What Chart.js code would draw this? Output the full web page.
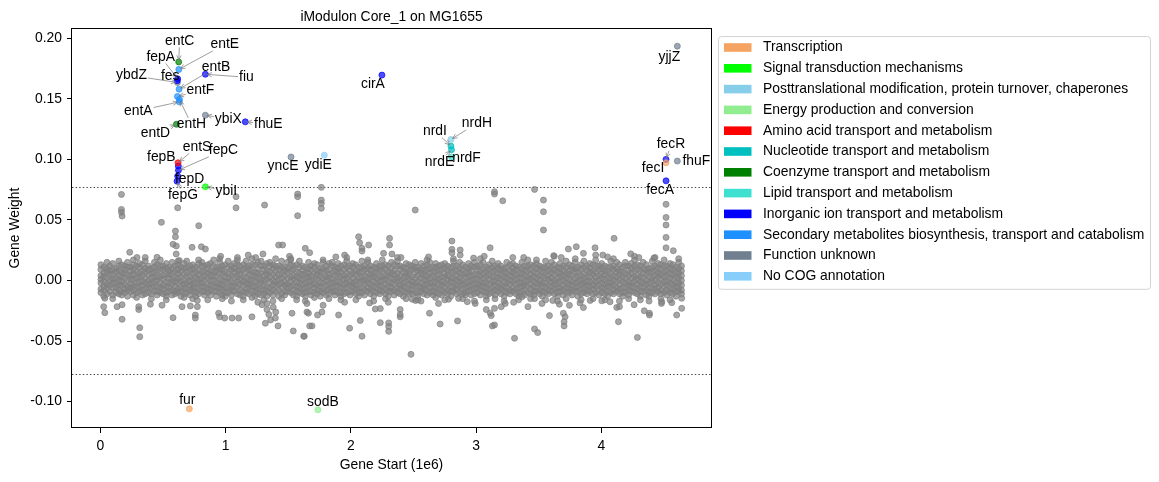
<!DOCTYPE html>
<html>
<head>
<meta charset="utf-8">
<title>iModulon Core_1 on MG1655</title>
<script src="https://cdn.jsdelivr.net/npm/chart.js@4.4.1/dist/chart.umd.min.js"></script>
<style>
  html, body { margin: 0; padding: 0; background: #fff; }
  #wrap { width: 1159px; height: 482px; position: relative; }
</style>
</head>
<body>
<div id="wrap"><canvas id="myChart"></canvas></div>
<script>
// categorias COG (legenda)
const cogNames = [
  'Transcription',
  'Signal transduction mechanisms',
  'Posttranslational modification, protein turnover, chaperones',
  'Energy production and conversion',
  'Amino acid transport and metabolism',
  'Nucleotide transport and metabolism',
  'Coenzyme transport and metabolism',
  'Lipid transport and metabolism',
  'Inorganic ion transport and metabolism',
  'Secondary metabolites biosynthesis, transport and catabolism',
  'Function unknown',
  'No COG annotation'
];
const cogColors = ['#F4A460', '#00FF00', '#87CEEB', '#90EE90', '#FF0000', '#00BFBF',
                   '#008000', '#40E0D0', '#0000FF', '#1E90FF', '#708090', '#87CEFA'];

// genes do iModulon (inicio em kb, peso, indice da categoria)
const geneNames   = ['entC', 'fepA', 'fes', 'ybdZ', 'entE', 'fiu', 'entB', 'entF', 'entH', 'entA', 'entD',
                     'ybiX', 'fhuE', 'entS', 'fepB', 'fepC', 'fepD', 'fepG', 'ybiI', 'yncE', 'ydiE', 'cirA',
                     'nrdH', 'nrdI', 'nrdE', 'nrdF', 'yjjZ', 'fecR', 'fecI', 'fhuF', 'fecA', 'fur', 'sodB'];
const geneStartKb = [625, 617, 613, 615, 626, 838, 628, 615, 631, 630, 607,
                     838, 1157, 620, 622, 623, 617, 612, 838, 1522, 1788, 2248,
                     2799, 2799, 2804, 2804, 4607, 4517, 4517, 4607, 4517, 710, 1737];
const geneWeight  = [0.1805, 0.1665, 0.1650, 0.1635, 0.1743, 0.1703, 0.1580, 0.1520, 0.1495, 0.1475, 0.1290,
                     0.1365, 0.1310, 0.0972, 0.0945, 0.0910, 0.0862, 0.0820, 0.0774, 0.1020, 0.1035, 0.1696,
                     0.1165, 0.1110, 0.1080, 0.1020, 0.1935, 0.1000, 0.0972, 0.0986, 0.0823, -0.1060, -0.1068];
const geneCog     = [6, 8, 8, 10, 9, 8, 9, 9, 9, 9, 6,
                     10, 8, 4, 8, 8, 8, 8, 1, 10, 11, 8,
                     2, 5, 5, 7, 10, 8, 0, 10, 8, 0, 3];

// resto do genoma (cinza): [inicio kb, pesos em milesimos...]
const gray0 = [
  [4,13,9,4,1,-2,-7,-10],[27,11,6,3,-1,-5,-8,-13],[52,15,10,7,2,-3,-6,-11],[74,12,8,5,0,-4,-9],
  [98,14,9,5,1,-2,-6,-12,-15],[123,10,7,2,-2,-6,-10],[147,16,12,8,4,0,-4,-8,-11],[169,13,7,3,-1,-4,-9,-12],
  [194,12,9,6,2,-3,-7,-10],[216,15,11,5,0,-5,-8,-13],[242,11,8,4,1,-3,-6,-9],[263,17,13,9,5,1,-4,-8,-12],
  [289,12,7,2,-2,-5,-10,-14],[311,14,11,6,3,-1,-6,-9],[336,13,8,4,-1,-4,-8,-12],[358,16,10,7,2,-2,-7,-11,19],
  [384,12,9,5,0,-3,-6,-10],[407,10,6,2,-2,-6,-11,-15],[431,15,11,7,3,-1,-5,-9],[453,13,8,3,0,-5,-9,-12],
  [478,17,12,8,3,-2,-6,-10],[500,12,9,4,1,-4,-7,-11],[526,14,10,5,-1,-5,-10,-13,-16],[547,11,8,5,2,-2,-6,-9],
  [573,15,10,6,1,-3,-8,-12],[595,12,7,2,-1,-5,-9,-11],[620,13,9,6,2,-2,-7,-10,16],[642,11,8,3,-1,-6,-9,-13],
  [668,14,10,5,0,-3,-6,-11,-14],[689,16,11,7,3,-2,-7,-10],[715,12,8,3,-1,-4,-8,-12],[737,13,10,6,1,-3,-6,-9,-15],
  [762,11,6,2,-2,-6,-10,-13],[784,14,9,5,1,-2,-7,-11,17],[810,15,12,7,2,-2,-5,-9],[831,12,7,4,0,-5,-9,-12],
  [857,13,10,6,2,-3,-7,-10,-16],[879,14,8,4,0,-4,-8,-12],[904,17,12,7,4,0,-5,-9],[926,11,8,3,-2,-5,-9,-13],
  [952,15,10,6,1,-3,-6,-10,18],[973,12,9,5,0,-4,-8,-12,-15],[997,13,7,3,-1,-6,-10,-13]
];
const gray1 = [
  [1021,16,11,6,2,-1,-6,-10],[1046,12,9,4,-1,-5,-8,-12,-17],[1068,14,10,7,3,-2,-5,-9],[1094,17,13,8,3,-1,-6,-11,19],
  [1115,12,8,5,1,-3,-8,-12],[1141,13,9,3,-1,-4,-9,-13,-16],[1163,16,11,7,2,-2,-7,-10],[1188,12,9,5,0,-3,-6,-11],
  [1210,18,13,8,4,0,-5,-9,-14],[1236,13,7,3,-1,-5,-9,-13],[1257,15,10,6,2,-3,-7,-11,-18],[1283,16,12,6,1,-2,-7,-12],
  [1305,12,9,4,0,-4,-8,-11,-16],[1330,14,8,5,1,-5,-9,-13,-19],[1352,15,12,7,3,-1,-6,-10],[1378,13,10,5,0,-4,-8,-12,-17],
  [1399,18,12,8,3,-1,-4,-9],[1425,12,9,5,1,-3,-8,-13],[1447,16,11,6,2,-2,-6,-11,-15],[1472,11,8,4,-1,-4,-9,-12],
  [1494,15,10,7,2,-3,-6,-9],[1520,17,13,8,3,-1,-5,-10,18],[1541,12,9,4,1,-4,-8,-12],[1567,13,7,3,-1,-5,-9,-13,-16],
  [1589,16,11,6,2,-2,-6,-10],[1614,12,8,5,1,-3,-7,-11],[1636,11,6,2,-2,-6,-10,-13,-17],[1662,15,10,6,3,-1,-5,-9],
  [1683,12,9,4,0,-4,-9,-12],[1709,14,11,6,1,-3,-6,-10,-14],[1731,13,8,5,1,-4,-8,-11],[1756,10,7,3,-2,-5,-9,-13],
  [1778,15,10,7,2,-2,-7,-10,17],[1804,12,8,3,0,-4,-8,-12],[1825,14,9,5,2,-3,-7,-11,-15],[1851,15,12,6,1,-2,-6,-9],
  [1873,11,8,4,-1,-5,-9,-12],[1898,14,10,7,3,-1,-5,-10],[1920,12,7,3,-2,-6,-10,-13,-16],[1946,13,9,4,1,-3,-7,-11],
  [1967,16,11,6,2,-2,-6,-10,19],[1993,12,8,4,-1,-4,-9,-12]
];
const gray2 = [
  [2015,14,11,6,2,-2,-5,-9],[2040,13,8,5,0,-4,-7,-11,-16],[2062,11,7,2,-1,-6,-10,-13],[2088,16,11,7,3,-1,-6,-10],
  [2109,12,9,4,0,-3,-8,-12],[2135,15,10,6,1,-2,-6,-9,17],[2157,12,9,5,2,-3,-7,-11],[2182,11,6,3,-1,-5,-9,-13,-17],
  [2204,14,10,7,2,-2,-6,-10],[2230,12,8,3,-1,-4,-8,-11],[2251,17,12,8,3,0,-5,-9],[2277,13,9,4,1,-3,-7,-11,-15],
  [2299,12,7,4,-1,-5,-9,-13,-18],[2324,15,10,6,2,-2,-6,-9],[2346,13,8,5,1,-3,-8,-12],[2372,16,12,6,2,-1,-6,-10,19],
  [2393,12,9,4,0,-4,-7,-11],[2419,11,7,2,-2,-5,-9,-13],[2441,14,10,6,3,-1,-6,-10,-15],[2466,13,8,5,1,-3,-7,-11],
  [2488,12,9,3,-1,-4,-8,-11],[2514,15,11,7,2,-2,-5,-10],[2535,11,8,4,-1,-5,-10,-13,-16],[2561,14,9,6,2,-2,-6,-9],
  [2583,12,8,5,1,-4,-7,-11],[2608,13,9,4,0,-3,-8,-12,17],[2630,15,10,6,2,-2,-6,-10],[2656,11,7,3,-2,-5,-9,-12],
  [2677,14,11,7,2,-1,-6,-10,-14],[2703,12,8,5,1,-3,-7,-11],[2725,13,9,3,-1,-4,-8,-12],[2750,14,10,6,3,-2,-6,-10,-16],
  [2772,12,8,4,1,-3,-8,-11],[2798,11,7,2,-1,-5,-9,-13],[2819,16,12,7,2,-2,-6,-9,18],[2845,12,8,4,0,-4,-7,-11],
  [2867,15,10,6,2,-1,-5,-10],[2892,13,9,5,0,-3,-7,-11,-15],[2914,11,6,3,-2,-6,-10,-12],[2940,14,10,7,3,-1,-5,-9],
  [2961,12,8,4,0,-4,-8,-12],[2987,15,11,5,1,-3,-7,-11,-17]
];
const gray3 = [
  [3009,12,9,5,1,-3,-6,-10],[3034,13,8,4,0,-4,-8,-12,18],[3056,15,10,6,2,-2,-5,-9],[3082,11,7,3,-2,-6,-10,-13,-16],
  [3103,13,9,5,1,-3,-7,-11],[3129,16,11,7,3,-1,-6,-10],[3151,12,8,3,-1,-4,-8,-12,-15],[3176,14,10,6,2,-2,-6,-9],
  [3198,12,9,5,1,-4,-7,-11],[3224,10,7,3,-1,-5,-9,-13,-17],[3245,15,11,6,2,-2,-6,-10],[3271,13,8,4,0,-3,-8,-11],
  [3293,14,10,7,3,-1,-6,-9,19],[3318,12,9,5,1,-3,-7,-11],[3340,11,6,2,-2,-6,-10,-13,-16],[3366,15,10,6,2,-2,-5,-9],
  [3387,12,8,4,-1,-4,-8,-12],[3413,17,12,8,3,0,-5,-10],[3435,13,9,5,1,-3,-7,-11,-15],[3460,12,7,3,-1,-5,-9,-12],
  [3482,14,10,6,2,-2,-6,-9,17],[3508,12,9,4,0,-3,-8,-11],[3529,11,7,3,-2,-5,-9,-13],[3555,16,11,7,2,-2,-6,-10,-16],
  [3577,12,8,4,1,-4,-8,-11],[3602,15,10,6,2,-1,-5,-9],[3624,13,9,5,0,-3,-7,-11,20],[3650,11,7,2,-2,-6,-10,-13,-17],
  [3671,14,10,6,3,-1,-6,-9],[3697,12,8,4,0,-4,-8,-12],[3719,16,11,6,2,-2,-6,-10,-15],[3744,13,8,5,1,-3,-7,-10],
  [3766,12,9,4,-1,-4,-8,-12],[3792,15,10,7,2,-2,-6,-9,18],[3813,11,7,3,-1,-5,-9,-13],[3839,13,9,4,0,-3,-7,-11,-16],
  [3861,16,11,6,2,-2,-6,-10],[3886,12,8,3,-1,-4,-8,-11],[3908,14,10,7,3,-1,-5,-9],[3934,13,8,5,0,-4,-7,-11,-15],
  [3955,17,12,7,3,-1,-5,-10,21],[3981,12,9,4,0,-4,-8,-12]
];
const gray4 = [
  [4003,14,10,6,2,-2,-6,-10],[4028,12,8,5,1,-3,-7,-11,-16],[4050,11,7,2,-2,-5,-9,-13],[4076,16,11,6,2,-2,-5,-10],
  [4097,12,9,4,0,-4,-8,-11,18],[4123,15,10,7,3,-1,-6,-9],[4145,13,8,5,1,-3,-7,-11,-17],[4170,11,7,3,-1,-6,-10,-13],
  [4192,15,12,6,2,-2,-6,-10],[4218,12,8,4,-1,-4,-8,-12,-15],[4239,14,10,6,2,-2,-5,-9],[4265,17,12,8,3,-1,-6,-10,20],
  [4287,13,9,4,1,-3,-7,-11],[4312,12,8,3,-1,-5,-9,-13,-16],[4334,15,10,6,2,-2,-6,-9],[4360,13,9,5,0,-3,-8,-12],
  [4381,10,7,3,-2,-6,-10,-13,-17],[4407,16,11,7,2,-1,-6,-10],[4429,12,8,4,0,-4,-7,-11,19],[4454,14,10,6,3,-2,-6,-9],
  [4476,13,9,5,1,-3,-8,-11,-15],[4502,17,12,7,3,-1,-5,-10],[4523,12,8,4,-1,-4,-8,-12],[4549,14,10,6,2,-2,-7,-10,-16],
  [4571,13,9,5,1,-3,-7,-11],[4596,11,7,3,-2,-5,-9,-13],[4618,15,10,6,2,-2,-6,-9,18],[4640,12,8,4,0,-4,-8,-11]
];
// pontos cinza mais afastados: [inicio kb, peso em milesimos]
const grayOut = [
  [168,71.1],[168,58.7],[168,56.3],[173,53.2],[487,48.0],[617,60.0],[599,40.8],[599,36.1],[580,29.9],[606,28.5],
  [605,21.9],[732,27.4],[785,45.2],[234,23.3],[292,19.0],[452,19.2],[630,16.5],
  [1083,69.2],[1083,60.0],[1311,62.3],[1575,71.4],[1575,69.2],[1575,53.5],[1423,29.3],[1455,29.3],[806,27.9],
  [838,26.0],[1298,21.9],[1636,26.6],[1671,23.0],
  [1764,76.9],[1764,66.4],[1764,63.7],[1764,59.6],[2062,36.1],[2070,31.2],[2089,26.6],[2089,24.3],[2142,29.3],
  [2309,34.8],[2309,29.3],[2261,22.4],[2328,21.9],
  [2514,58.2],[3147,73.3],[3147,71.4],[3213,65.8],[2807,32.6],[2807,25.7],[2807,22.9],[2873,25.2],[2873,21.0],
  [3112,27.0],[3065,20.0],
  [3467,75.2],[3538,66.4],[3538,56.8],[3538,41.7],[4102,34.8],[3737,26.0],[3800,27.9],[3857,22.4],[3950,27.0],[4012,21.0],
  [4517,62.9],[4517,52.1],[4517,45.8],[4517,35.6],[4517,27.0],[4575,24.6],[4235,22.0],[4300,19.0],
  [960,20.0],[1180,21.0],[1240,19.0],[1510,20.0],[1880,19.5],[1950,21.0],[2400,19.0],[2620,19.5],[2980,18.5],
  [3380,19.0],[3620,20.5],[3680,19.0],[4050,19.5],[4420,18.5],
  [35,-14.7],[26,-21.6],[35,-26.6],[133,-21.6],[173,-20.0],[173,-32.0],[306,-21.6],[306,-24.0],[314,-39.0],[314,-46.4],
  [399,-19.6],[492,-20.4],[580,-30.7],[652,-21.6],[718,-21.0],[758,-28.5],[758,-31.0],
  [774,-16.5],[774,-21.6],[944,-27.0],[952,-30.0],[992,-31.0],[1051,-31.0],[1104,-31.0],[1210,-30.0],[1317,-35.3],
  [1359,-32.6],[1418,-37.5],[1397,-31.0],[1540,-41.7],[1623,-46.0],[1530,-27.0],
  [1290,-20.0],[1330,-24.0],[1380,-22.0],[1400,-26.0],[1345,-28.0],
  [1649,-19.0],[1649,-26.0],[1661,-27.0],[1671,-37.5],[1690,-37.5],[1628,-46.0],[1734,-28.5],[1769,-26.0],[1778,-20.5],
  [1902,-28.5],[1990,-39.4],[2075,-33.0],[2089,-46.0],[2235,-34.8],[2195,-23.5],[2235,-23.2],[2302,-35.0],[2302,-38.0],
  [2302,-42.0],[2394,-24.0],[2394,-28.0],[2394,-30.0],[2480,-61.0],
  [2490,-15.5],[2516,-16.5],[2628,-27.0],[2713,-35.9],[2852,-33.4],[2700,-19.0],[2780,-15.5],[2860,-14.8],[2993,-19.0],
  [3081,-24.0],[3113,-27.0],[3121,-29.0],[3147,-23.0],[3201,-21.6],[3233,-19.0],[3130,-37.5],[3147,-36.7],[3307,-47.7],
  [3467,-40.0],[3492,-43.0],[3414,-21.6],[3526,-19.0],[3467,-15.0],[3366,-13.5],[3586,-29.0],[3697,-27.0],[3711,-30.0],
  [3703,-34.0],[3703,-37.5],[3857,-22.4],[3911,-16.5],[4004,-16.8],[4070,-17.6],[4123,-22.2],[3745,-20.5],[3665,-19.6],
  [3612,-16.5],
  [4642,-23.0],[4602,-28.5],[4288,-47.0],[4343,-25.0],[4384,-27.0],[4384,-28.5],[4262,-20.0],[4145,-21.6],[4137,-34.0],
  [4483,-17.6],[4563,-18.3],[4642,-14.7],
  [1950,-18.0],[2150,-18.5],[2560,-17.0],[2930,-17.5],[3300,-18.0],[3830,-18.5],[4480,-19.0]
];

const xTicks = [0, 1, 2, 3, 4];          // em 1e6
const yTicks = [-0.10, -0.05, 0.00, 0.05, 0.10, 0.15, 0.20];
const thresholds = [0.0775, -0.0775];

// deslocamento dos rotulos (px) em relacao ao ponto
const labelOffsets = {
  entC: [1, -21], fepA: [-17, -22], fes: [-7, -5], ybdZ: [-46, -7], entE: [46, -25], fiu: [41, 3],
  entB: [37, -22], entF: [23, -6], entH: [12, 25], entA: [-41, 9], entD: [-21, 9], ybiX: [23, 4],
  fhuE: [23, 2], entS: [19, -16], fepB: [-17, -9], fepC: [45, -20], fepD: [12, 3], fepG: [6, 14],
  ybiI: [21, 4], yncE: [-8, 9], ydiE: [-6, 10], cirA: [-9, 9], nrdH: [26, -16], nrdI: [-16, -15],
  nrdE: [-12, 12], nrdF: [15, 1], yjjZ: [-8, 11], fecR: [5, -15], fecI: [-13, 5], fhuF: [19, 0],
  fecA: [-6, 9], fur: [-2, -9], sodB: [5, -8]
};

const FONT = '"Liberation Sans", Arial, sans-serif';
const FSIZE = 13.9;
Chart.defaults.font.family = FONT;
Chart.defaults.font.size = FSIZE;
Chart.defaults.color = '#000';

function fade(hex, a) {
  const n = parseInt(hex.slice(1), 16);
  return 'rgba(' + (n >> 16) + ',' + ((n >> 8) & 255) + ',' + (n & 255) + ',' + a + ')';
}

// monta os pontos cinza
const grayPoints = [];
[].concat(gray0, gray1, gray2, gray3, gray4).forEach(row => {
  for (let i = 1; i < row.length; i++) grayPoints.push({x: row[0] * 1000, y: row[i] / 1000});
});
grayOut.forEach(p => grayPoints.push({x: p[0] * 1000, y: p[1] / 1000}));

// um dataset por categoria
const cogSets = cogNames.map((name, c) => {
  const pts = [];
  geneNames.forEach((g, i) => {
    if (geneCog[i] === c) pts.push({x: geneStartKb[i] * 1000, y: geneWeight[i]});
  });
  return {
    label: name, data: pts,
    backgroundColor: fade(cogColors[c], 0.7), borderColor: fade(cogColors[c], 0.7),
    borderWidth: 1, pointRadius: 3, pointHoverRadius: 3
  };
});

const datasets = cogSets.concat([{
  label: 'genome', data: grayPoints,
  backgroundColor: 'rgba(128,128,128,0.7)', borderColor: 'rgba(128,128,128,0.7)',
  borderWidth: 1, pointRadius: 3, pointHoverRadius: 3
}]);

function drawArrow(ctx, x0, y0, x1, y1) {
  const ang = Math.atan2(y1 - y0, x1 - x0);
  ctx.beginPath();
  ctx.moveTo(x0, y0);
  ctx.lineTo(x1, y1);
  ctx.moveTo(x1 - 5 * Math.cos(ang - 0.45), y1 - 5 * Math.sin(ang - 0.45));
  ctx.lineTo(x1, y1);
  ctx.lineTo(x1 - 5 * Math.cos(ang + 0.45), y1 - 5 * Math.sin(ang + 0.45));
  ctx.stroke();
}

const extras = {
  id: 'extras',
  beforeDatasetsDraw(chart) {
    const {ctx, chartArea: a, scales: {y}} = chart;
    ctx.save();
    ctx.strokeStyle = '#444';
    ctx.lineWidth = 1.1;
    ctx.setLineDash([1.4, 2.2]);
    thresholds.forEach(t => {
      const py = Math.round(y.getPixelForValue(t)) + 0.5;
      ctx.beginPath(); ctx.moveTo(a.left, py); ctx.lineTo(a.right, py); ctx.stroke();
    });
    ctx.restore();
  },
  afterDatasetsDraw(chart) {
    const {ctx, chartArea: a, scales: {x, y}} = chart;
    ctx.save();
    ctx.font = FSIZE + 'px ' + FONT;
    // setas
    ctx.strokeStyle = 'rgba(120,120,120,0.9)';
    ctx.lineWidth = 0.8;
    geneNames.forEach((g, i) => {
      const px = x.getPixelForValue(geneStartKb[i] * 1000);
      const py = y.getPixelForValue(geneWeight[i]);
      const off = labelOffsets[g];
      const cx = px + off[0], cy = py + off[1];
      const hw = ctx.measureText(g).width / 2 + 1, hh = 6.5;
      const dx = px - cx, dy = py - cy;
      const t = Math.min(dx ? hw / Math.abs(dx) : Infinity, dy ? hh / Math.abs(dy) : Infinity);
      if (t >= 1) return;
      const sx = cx + dx * t, sy = cy + dy * t;
      const len = Math.hypot(px - sx, py - sy);
      if (len < 6) return;
      const ex = px - (px - sx) / len * 2, ey = py - (py - sy) / len * 2;
      drawArrow(ctx, sx, sy, ex, ey);
    });
    // rotulos
    ctx.fillStyle = '#000';
    ctx.textAlign = 'center';
    ctx.textBaseline = 'middle';
    geneNames.forEach((g, i) => {
      const px = x.getPixelForValue(geneStartKb[i] * 1000);
      const py = y.getPixelForValue(geneWeight[i]);
      const off = labelOffsets[g];
      ctx.fillText(g, px + off[0], py + off[1]);
    });
    // moldura
    ctx.strokeStyle = '#000';
    ctx.lineWidth = 1;
    ctx.strokeRect(Math.round(a.left) - 0.5, Math.round(a.top) + 0.5,
                   Math.round(a.right - a.left) + 1, Math.round(a.bottom - a.top) - 1);
    ctx.restore();
  },
  afterDraw(chart) {
    const {ctx, chartArea: a} = chart;
    const bx = a.right + 7, by = a.top + 7.5;
    const bw = 432, rowH = 20.8;
    const bh = (cogNames.length - 1) * rowH + 24;
    ctx.save();
    ctx.fillStyle = '#fff';
    ctx.strokeStyle = '#d4d4d4';
    ctx.lineWidth = 1;
    ctx.beginPath();
    ctx.roundRect(Math.round(bx) + 0.5, Math.round(by) + 0.5, bw, bh, 3);
    ctx.fill();
    ctx.stroke();
    ctx.font = FSIZE + 'px ' + FONT;
    ctx.textAlign = 'left';
    ctx.textBaseline = 'middle';
    cogNames.forEach((name, i) => {
      const cy = by + 12 + i * rowH;
      ctx.fillStyle = cogColors[i];
      ctx.fillRect(bx + 6, cy - 4.3, 27.5, 8.6);
      ctx.fillStyle = '#000';
      ctx.fillText(name, bx + 45, cy);
    });
    ctx.restore();
  }
};

const ctx = document.getElementById('myChart').getContext('2d');
new Chart(ctx, {
  type: 'scatter',
  data: { datasets: datasets },
  options: {
    responsive: true,
    maintainAspectRatio: false,
    animation: false,
    devicePixelRatio: 1,
    events: [],
    layout: { padding: { top: 0, right: 448, bottom: 0, left: 0 } },
    plugins: {
      legend: { display: false },
      tooltip: { enabled: false },
      title: {
        display: true,
        text: 'iModulon Core_1 on MG1655',
        fullSize: false,
        color: '#000',
        font: { size: FSIZE, weight: 'normal' },
        padding: { top: 8.5, bottom: 2.82 }
      }
    },
    scales: {
      x: {
        type: 'linear',
        min: -227000,
        max: 4876000,
        afterBuildTicks: s => { s.ticks = xTicks.map(v => ({value: v * 1e6})); },
        afterFit: s => { s.height = 54; },
        ticks: {
          callback: v => String(Math.round(v / 1e5) / 10),
          color: '#000', padding: 5, maxRotation: 0, autoSkip: false
        },
        grid: { display: true, drawOnChartArea: false, drawTicks: true, tickLength: 5, color: '#000', lineWidth: 1 },
        border: { display: false },
        title: { display: true, text: 'Gene Start (1e6)', color: '#000', padding: { top: 0, bottom: 8.7 } }
      },
      y: {
        type: 'linear',
        min: -0.1218,
        max: 0.2085,
        afterBuildTicks: s => { s.ticks = yTicks.map(v => ({value: v})); },
        afterFit: s => { s.width = 72; },
        ticks: {
          callback: v => v.toFixed(2),
          color: '#000', padding: 5, autoSkip: false
        },
        grid: { display: true, drawOnChartArea: false, drawTicks: true, tickLength: 5, color: '#000', lineWidth: 1 },
        border: { display: false },
        title: { display: true, text: 'Gene Weight', color: '#000', padding: { top: 6.7, bottom: 0 } }
      }
    }
  },
  plugins: [extras]
});
</script>
</body>
</html>
